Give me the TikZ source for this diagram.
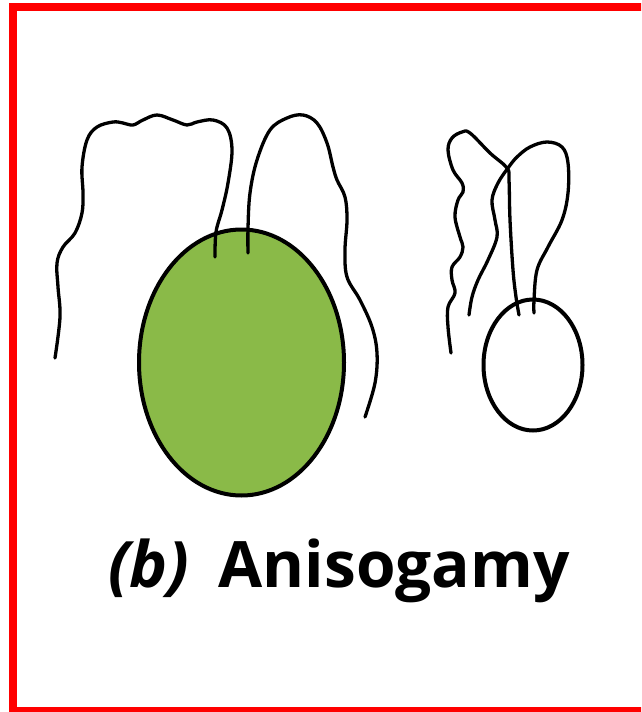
\documentclass[tikz,border=0pt]{standalone}
\usepackage{fontspec}
\setmainfont{Open Sans}
\usetikzlibrary{shapes.geometric}
\definecolor{framered}{RGB}{255,0,0}
\definecolor{gametegreen}{RGB}{138,186,72}
\begin{document}
\begin{tikzpicture}[x=1pt,y=-1pt,
  flag/.style={line width=3.3pt,line cap=round,line join=round},
  cell/.style={ellipse,draw,line width=4pt,inner sep=0pt}]
\useasboundingbox (0,0) rectangle (641,712);
\fill[white] (0,0) rectangle (641,712);
% frame
\begin{scope}
\clip (0,0) rectangle (641,712);
\draw[framered,line width=8pt] (13,6.5) rectangle (660,710.5);
\end{scope}

% large gamete
\node[cell,fill=gametegreen,minimum width=205pt,minimum height=266pt] (egg) at (241.5,362.5) {};
\draw[flag] plot[smooth,tension=0.6] coordinates {
  (215,257) (216,232) (222,210) (228,183) (232,150) (227,128) (213,120)
  (197,122) (187,125) (173,120) (157,115) (143,120) (133,125) (123,123)
  (113,122) (97,127) (87,140) (82,167) (83,193) (82,213) (75,233) (63,247)
  (57,263) (58,287) (60,317) (55,358)};
\draw[flag] plot[smooth,tension=0.6] coordinates {
  (248,253) (248,228) (250,193) (257,160) (270,130) (287,118) (303,115)
  (317,123) (327,143) (333,167) (337,180) (345,197) (347,220) (345,250)
  (347,277) (360,300) (372,327) (377,353) (375,383) (365,417)};

% small gamete
\node[cell,fill=white,minimum width=99pt,minimum height=131pt] (sperm) at (533,365) {};
\draw[flag] plot[smooth,tension=0.6] coordinates {
  (519,315) (516,297) (513,270) (510,220) (509,180) (507,168) (490,153)
  (470,133) (462,132) (452,138) (448,150) (453,170) (462,183) (463,192)
  (458,200) (455,217) (460,237) (463,247) (460,257) (452,267) (452,280)
  (455,293) (448,307) (448,327) (451,353)};
\draw[flag] plot[smooth,tension=0.6] coordinates {
  (534,313) (534,300) (537,270) (548,247) (562,220) (568,193) (568,163)
  (562,147) (547,142) (530,147) (517,157) (508,168) (498,183) (492,200)
  (495,220) (497,237) (488,260) (478,280) (472,297) (469,315)};

% caption
\node[anchor=base west,inner sep=0pt,font=\fontsize{64}{70}\selectfont\bfseries] (caption) at (108,587)
  {\itshape(b)\upshape\hspace{0.45em}Anisogamy};
\end{tikzpicture}
\end{document}
